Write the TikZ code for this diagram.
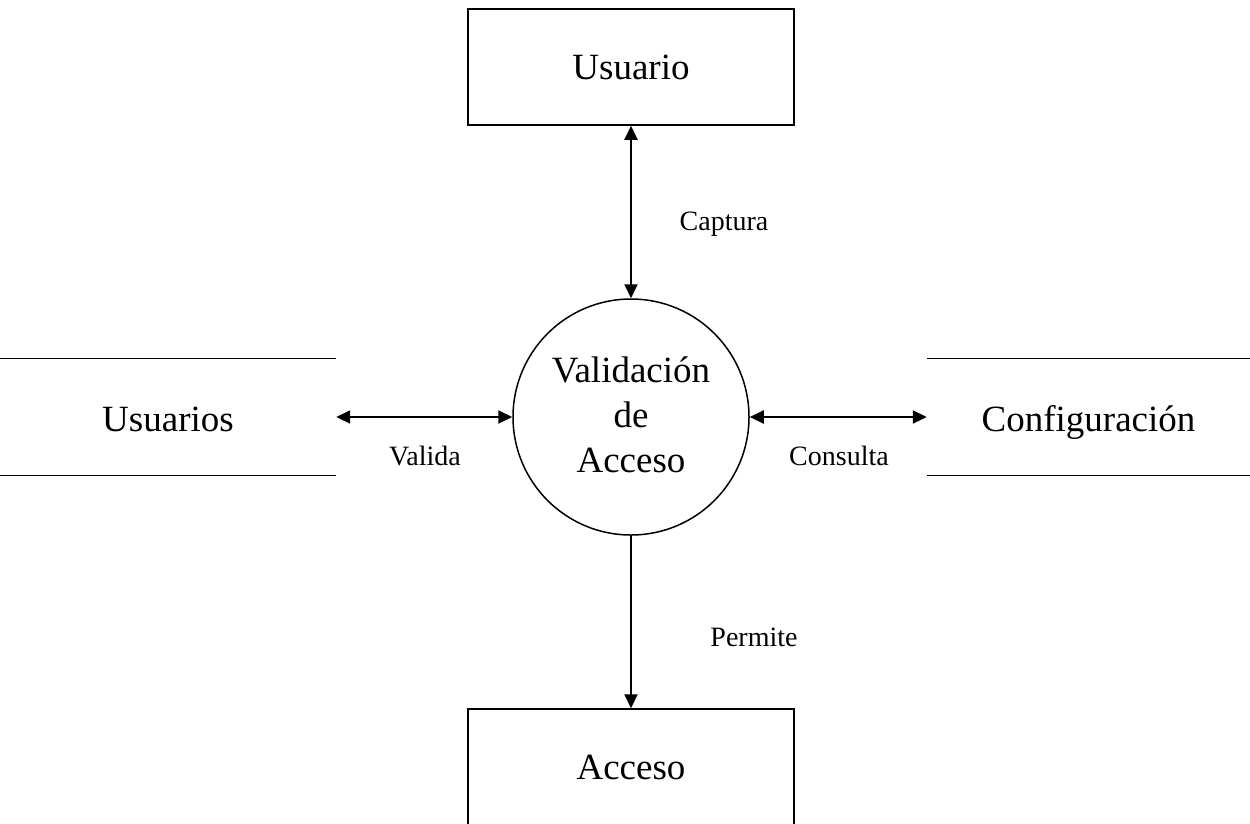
\documentclass[tikz,border=0pt]{standalone}
\usepackage{fontspec}
\setmainfont{Liberation Serif}
\usetikzlibrary{arrows.meta}
\begin{document}
\begin{tikzpicture}[x=1pt,y=-1pt,
  big/.style={font=\fontsize{37}{45}\selectfont},
  lbl/.style={font=\fontsize{28}{34}\selectfont, inner sep=0pt},
  entity/.style={draw, line width=1.5pt, minimum width=326pt, minimum height=116pt, inner sep=0pt, big},
  store/.style={minimum height=117pt, inner sep=0pt, text height=31pt, text depth=2pt, big},
  proc/.style={draw, circle, line width=1.5pt, minimum size=236pt, inner sep=0pt, align=center, big},
  flow/.style={line width=2pt, -{Triangle[length=14pt,width=13pt]}},
  dflow/.style={line width=2pt, {Triangle[length=14pt,width=13pt]}-{Triangle[length=14pt,width=13pt]}},
  storeline/.style={line width=1.5pt}
]
\useasboundingbox (0,0) rectangle (1250,823);
\fill[white] (0,0) rectangle (1250,823);

\node[entity] (usuario) at (631,67) {Usuario};
\node[entity, minimum height=122pt] (acceso) at (631,770) {};
\node[big] (accesotxt) at (631,767) {Acceso};
\node[proc] (val) at (631,417) {};
\node[big, align=center, inner sep=0pt] (valtxt) at (631,415) {Validación\\de\\Acceso};

\node[store, minimum width=336pt] (usuarios) at (168,417) {Usuarios};
\node[store, minimum width=323pt] (config) at (1088.5,417) {Configuración};

\draw[storeline] (usuarios.north west) -- (usuarios.north east);
\draw[storeline] (usuarios.south west) -- (usuarios.south east);
\draw[storeline] (config.north west) -- (config.north east);
\draw[storeline] (config.south west) -- (config.south east);

\draw[dflow] (usuario.south) -- (val.north);
\draw[dflow] (usuarios.east) -- (val.west);
\draw[dflow] (val.east) -- (config.west);
\draw[flow] (val.south) -- (acceso.north);

\node[lbl] (lcap) at (724,224) {Captura};
\node[lbl] (lval) at (425,456) {Valida};
\node[lbl] (lcon) at (839,456) {Consulta};
\node[lbl] (lper) at (754,637) {Permite};
\end{tikzpicture}
\end{document}
